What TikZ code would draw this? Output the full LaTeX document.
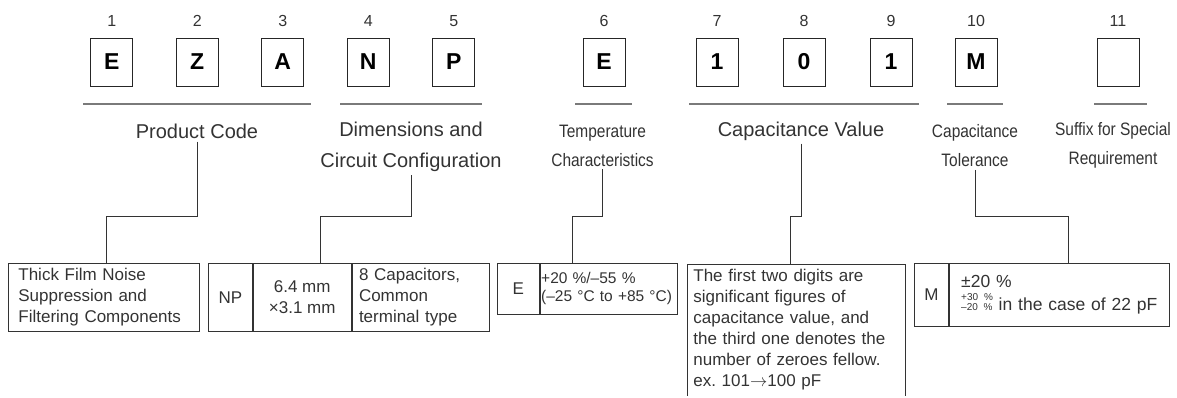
\documentclass[tikz,border=0pt]{standalone}
\usepackage{fontspec}
\setmainfont{Liberation Sans}
\newfontfamily\narrowfont[FakeStretch=0.86]{Liberation Sans}
\usepackage{tikz}
\frenchspacing

\definecolor{ink}{HTML}{333333}
\definecolor{rulegray}{HTML}{7A7A7A}

\tikzset{
	digit/.style={draw=black!85, line width=0.9pt, minimum width=42pt, minimum height=48pt, inner sep=0pt, text=black, font=\bfseries\fontsize{23}{23}\selectfont},
	num/.style={font=\fontsize{16}{16}\selectfont},
	lbl/.style={align=center, inner sep=3pt, font=\fontsize{20}{31}\selectfont},
	nlbl/.style={align=center, inner sep=3pt, font=\narrowfont\fontsize{18}{29}\selectfont},
	cell/.style={draw=black!80, line width=0.8pt, anchor=north west, inner sep=0pt, align=center, font=\fontsize{17}{21}\selectfont},
	uline/.style={draw=rulegray, line width=1.1pt},
	conn/.style={draw=black!80, line width=0.9pt}
}

\begin{document}
\begin{tikzpicture}[x=1pt, y=-1pt, node distance=85.5pt, text=ink]
	\useasboundingbox (0,0) rectangle (1177,397);

	\node[digit] (e1) at (111.7,62) {E};
	\node[digit] (z2) [right of=e1] {Z};
	\node[digit] (a3) [right of=z2] {A};
	\node[digit] (n4) [right of=a3] {N};
	\node[digit] (p5) [right of=n4] {P};
	\node[digit] (e6) at (604,62) {E};
	\node[digit] (d7) at (717,62) {1};
	\node[digit] (d8) [right of=d7, node distance=87pt] {0};
	\node[digit] (d9) [right of=d8, node distance=87pt] {1};
	\node[digit] (m10) at (976,62) {M};
	\node[digit] (s11) at (1118,62) {};

	\node[num] (t1) [above of=e1, node distance=41pt] {1};
	\node[num] (t2) [above of=z2, node distance=41pt] {2};
	\node[num] (t3) [above of=a3, node distance=41pt] {3};
	\node[num] (t4) [above of=n4, node distance=41pt] {4};
	\node[num] (t5) [above of=p5, node distance=41pt] {5};
	\node[num] (t6) [above of=e6, node distance=41pt] {6};
	\node[num] (t7) [above of=d7, node distance=41pt] {7};
	\node[num] (t8) [above of=d8, node distance=41pt] {8};
	\node[num] (t9) [above of=d9, node distance=41pt] {9};
	\node[num] (t10) [above of=m10, node distance=41pt] {10};
	\node[num] (t11) [above of=s11, node distance=41pt] {11};

	\draw[uline] (83,104) -- (311,104);
	\draw[uline] (340,104) -- (482,104);
	\draw[uline] (575,104) -- (632,104);
	\draw[uline] (689,104) -- (919,104);
	\draw[uline] (947,104) -- (1003,104);
	\draw[uline] (1094,104) -- (1147,104);

	\node[lbl] (pcl) at (197,131) {Product Code};
	\node[lbl] (dcl) at (411,147) {Dimensions and\\Circuit Configuration};
	\node[nlbl] (tcl) at (602.5,145.5) {Temperature\\Characteristics};
	\node[lbl] (cvl) at (801,131) {Capacitance Value};
	\node[nlbl] (ctl) at (975,145.5) {Capacitance\\Tolerance};
	\node[nlbl] (sfl) at (1113,145.5) {Suffix for Special\\Requirement};

	\node[cell, align=left, text width=171pt, inner xsep=10pt, minimum height=68pt] (thick) at (8,263) {Thick Film Noise\\Suppression and\\Filtering Components};

	\node[cell, minimum width=44pt, minimum height=68pt] (np) at (208,263) {NP};
	\node[cell, minimum width=98pt, minimum height=68pt] (dim) at (np.north east) {6.4 mm\\ ×3.1 mm};
	\node[cell, align=left, text width=123pt, inner xsep=7pt, minimum height=68pt] (cfg) at (dim.north east) {8 Capacitors,\\Common\\terminal type};

	\node[cell, minimum width=42pt, minimum height=51pt] (te) at (497,263) {E};
	\node[cell, align=left, text width=135pt, inner xsep=1pt, minimum height=51pt, font=\fontsize{15.5}{18}\selectfont] (tr) at (te.north east) {+20 \%/–55 \%\\(–25 °C to +85 °C)};

	\node[cell, draw=none, align=left, text width=206pt, inner xsep=6pt, inner ysep=5pt] (cap) at (687,264) {The first two digits are\\significant figures of\\capacitance value, and\\the third one denotes the\\number of zeroes fellow.\\ex. 101$\rightarrow$100 pF};
	\draw[conn] (cap.south west) -- (cap.north west) -- (cap.north east) -- (cap.south east);

	\node[cell, minimum width=34pt, minimum height=63pt] (tm) at (914,263) {M};
	\node[cell, align=left, text width=204pt, inner xsep=8pt, minimum height=63pt, font=\fontsize{17.5}{23}\selectfont] (tt) at (tm.north east) {\hspace*{4pt}±20 \%\\\hspace*{4pt}{\fontsize{10}{9}\selectfont\shortstack[l]{+30 \%\\–20 \%}} in the case of 22 pF};

	\coordinate (pcj) at (106,216);
	\coordinate (dcj) at (320.7,216);
	\coordinate (tcj) at (572.7,216);
	\coordinate (cvj) at (790,216);
	\coordinate (ctj) at (1068,216);

	\draw[conn] (pcl.south) |- (pcj) -- (pcj |- thick.north);
	\draw[conn] (dcl.south) |- (dcj) -- (dcj |- dim.north);
	\draw[conn] (tcl.south) |- (tcj) -- (tcj |- tr.north);
	\draw[conn] (cvl.south) |- (cvj) -- (cvj |- cap.north);
	\draw[conn] (ctl.south) |- (ctj) -- (ctj |- tt.north);
\end{tikzpicture}
\end{document}
